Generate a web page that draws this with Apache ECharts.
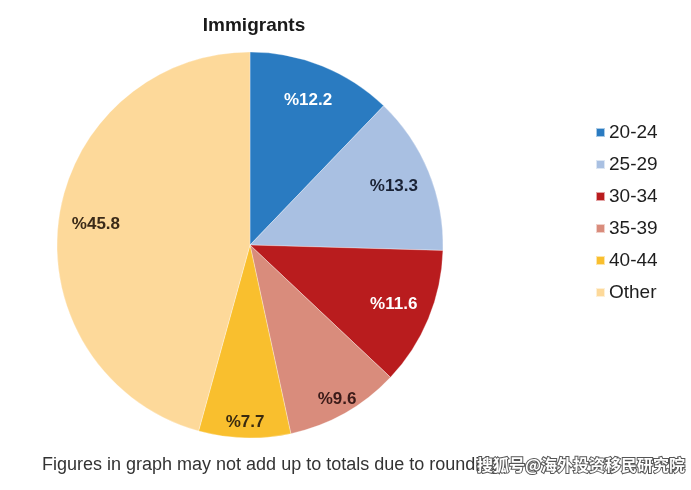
<!DOCTYPE html>
<html><head><meta charset="utf-8">
<script src="https://cdn.jsdelivr.net/npm/echarts@6/dist/echarts.min.js"></script>
<style>html,body{margin:0;padding:0;background:#fff}#c{width:691px;height:490px}</style>
</head><body><div id="c"></div>
<script>
const categories = ['20-24', '25-29', '30-34', '35-39', '40-44', 'Other'];
const values = [12.2, 13.3, 11.6, 9.6, 7.7, 45.8];
const colors = ['#2a7bc1', '#a9c0e2', '#b91c1e', '#d98c7c', '#f9bf2e', '#fdd99a'];
const labelColors = ['#ffffff', '#1a2235', '#ffffff', '#3a1a18', '#3a2a10', '#3a2a18'];
// which label ring each slice's label sits on (0 = inner ring, 1 = outer ring)
const labelRing = [0, 0, 0, 1, 1, 0];

const chart = echarts.init(document.getElementById('c'), null, {renderer: 'canvas'});
const pieData = categories.map((c, i) => ({name: c, value: values[i], itemStyle: {color: colors[i]}}));
const ringData = ring => categories.map((c, i) => ({
  name: c, value: values[i],
  label: {show: labelRing[i] === ring, color: labelColors[i]}
}));
const labelSeries = (ring, radius) => ({
  type: 'pie', center: [250, 245], radius: radius, startAngle: 90, clockwise: true,
  silent: true, legendHoverLink: false,
  itemStyle: {color: 'transparent'},
  label: {position: 'inside', formatter: p => '%' + p.value.toFixed(1),
    fontFamily: 'Liberation Sans', fontWeight: 'bold', fontSize: 17},
  labelLine: {show: false},
  data: ringData(ring)
});
chart.setOption({
  animation: false,
  title: {
    text: 'Immigrants', left: 249, top: 11, textAlign: 'center',
    textStyle: {fontFamily: 'Liberation Sans', fontWeight: 'bold', fontSize: 19, color: '#1a1a1a'}
  },
  legend: {
    orient: 'vertical', left: 590, top: 118,
    itemWidth: 9, itemHeight: 9, itemGap: 13, icon: 'rect',
    data: categories,
    textStyle: {fontFamily: 'Liberation Sans', fontSize: 19, color: '#1e1e1e', lineHeight: 19, padding: [0, 0, 0, -1]}
  },
  graphic: [
    {type: 'text', left: 42, top: 456, style: {text: 'Figures in graph may not add up to totals due to rounding', font: '18px "Liberation Sans"', fill: '#333'}},
    {type: 'text', left: 476, top: 456, style: {text: '搜狐号@海外投资移民研究院', font: 'bold 16px "Noto Sans CJK SC"', fill: '#ffffff', stroke: '#555', lineWidth: 2}}
  ],
  series: [
    {
      type: 'pie', center: [250, 245], radius: [0, 193], startAngle: 90, clockwise: true,
      silent: true, label: {show: false}, labelLine: {show: false},
      itemStyle: {borderColor: 'rgba(255,255,255,0.6)', borderWidth: 0.5},
      data: pieData
    },
    labelSeries(0, [112, 193]),
    labelSeries(1, [155, 193])
  ]
});
</script></body></html>
